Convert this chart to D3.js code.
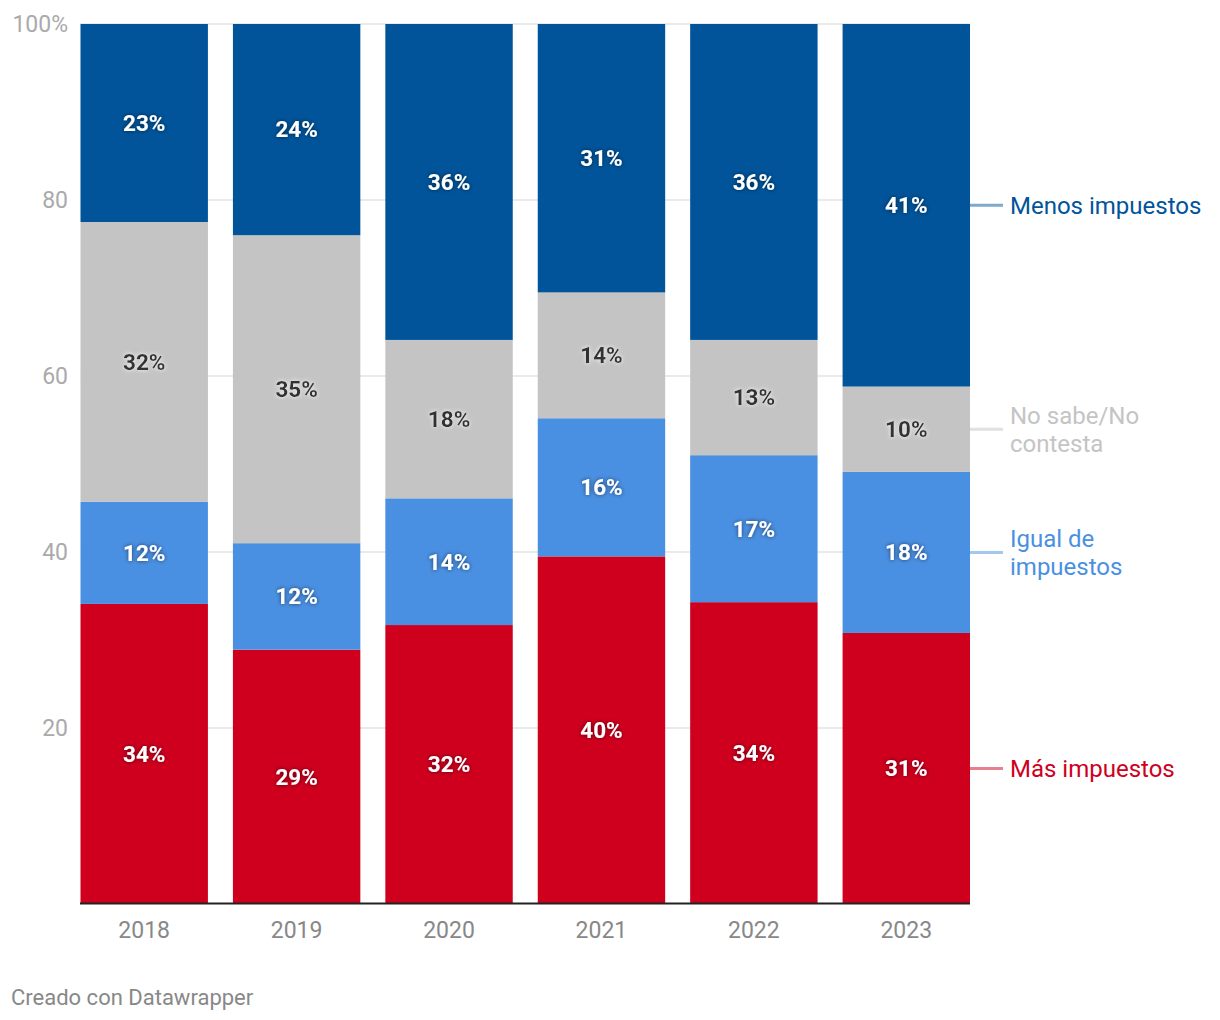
<!DOCTYPE html>
<html><head><meta charset="utf-8">
<script src="https://cdn.jsdelivr.net/npm/d3@7"></script>
<style>
body{margin:0;background:#fff;font-family:Roboto,"Noto Sans",sans-serif;}
</style></head><body>
<svg id="c" width="1220" height="1020"></svg>
<script>
const years = ["2018","2019","2020","2021","2022","2023"];
const seriesNames = ["Más impuestos","Igual de impuestos","No sabe/No contesta","Menos impuestos"];
const mas   = [34.1, 28.9, 31.7, 39.5, 34.3, 30.8];
const igual = [11.6, 12.1, 14.4, 15.7, 16.7, 18.3];
const nsnc  = [31.8, 35.0, 18.0, 14.3, 13.1, 9.7];
const menos = [22.5, 24.0, 35.9, 30.5, 35.9, 41.2];
const yTicks = [20, 40, 60, 80, 100];

const colors = ["#cf001e","#4a90e2","#c4c4c4","#01549a"];
const labelColors = ["#fff","#fff","#333","#fff"];
const legendLines = [["Más impuestos"],["Igual de","impuestos"],["No sabe/No","contesta"],["Menos impuestos"]];

const svg = d3.select("#c");
const mLeft = 80, mRight = 970, mTop = 24, mBottom = 904;
const x = d3.scaleBand().domain(years).range([mLeft+0.5, mRight]).paddingInner(0.164).paddingOuter(0);
const y = d3.scaleLinear().domain([0,100]).range([mBottom, mTop]);

// grid
svg.append("g").selectAll("line").data(yTicks).join("line")
  .attr("x1", mLeft).attr("x2", mRight).attr("y1", d=>y(d)).attr("y2", d=>y(d))
  .attr("stroke","#e3e3e3").attr("stroke-width",1.5);
svg.append("g").selectAll("text").data(yTicks).join("text")
  .attr("x", 68).attr("y", d=>y(d)).attr("dy","0.35em").attr("text-anchor","end")
  .attr("fill","#aaa").attr("font-size",23)
  .text(d=> d===100 ? "100%" : d);

const data = years.map((yr,i)=>({year:yr, "Más impuestos":mas[i], "Igual de impuestos":igual[i], "No sabe/No contesta":nsnc[i], "Menos impuestos":menos[i]}));
const stacked = d3.stack().keys(seriesNames)(data);

const defs = svg.append("defs");
const f1 = defs.append("filter").attr("id","halo-dark").attr("x","-20%").attr("y","-40%").attr("width","140%").attr("height","180%");
f1.append("feDropShadow").attr("dx",0).attr("dy",0).attr("stdDeviation",2).attr("flood-color","#000").attr("flood-opacity",0.6);
const f2 = defs.append("filter").attr("id","halo-light").attr("x","-20%").attr("y","-40%").attr("width","140%").attr("height","180%");
f2.append("feDropShadow").attr("dx",0).attr("dy",0).attr("stdDeviation",2).attr("flood-color","#fff").attr("flood-opacity",0.9);

stacked.forEach((s,si)=>{
  const g = svg.append("g");
  g.selectAll("rect").data(s).join("rect")
    .attr("x", d=>x(d.data.year)).attr("width", x.bandwidth())
    .attr("y", d=>y(d[1])).attr("height", d=>y(d[0])-y(d[1]))
    .attr("fill", colors[si]);
  g.selectAll("text").data(s).join("text")
    .attr("x", d=>x(d.data.year)+x.bandwidth()/2)
    .attr("y", d=>y((d[0]+d[1])/2)).attr("dy","0.35em")
    .attr("text-anchor","middle").attr("font-weight","bold").attr("font-size",22.5)
    .attr("fill", labelColors[si])
    .attr("filter", si===2 ? "url(#halo-light)" : "url(#halo-dark)")
    .text(d=>Math.round(d[1]-d[0])+"%");
  // legend
  const last = s[s.length-1];
  const ly = y((last[0]+last[1])/2);
  svg.append("line").attr("x1", mRight).attr("x2", 1003).attr("y1", ly).attr("y2", ly)
    .attr("stroke", colors[si]).attr("stroke-opacity",0.5).attr("stroke-width",3);
  const lines = legendLines[si];
  const t = svg.append("text").attr("x",1010).attr("font-size",24).attr("fill", colors[si]);
  lines.forEach((ln,li)=>{
    t.append("tspan").attr("x",1010).attr("y", ly + (li - (lines.length-1)/2)*28).attr("dy","0.35em").text(ln);
  });
});

// baseline & x axis
svg.append("line").attr("x1", mLeft).attr("x2", mRight).attr("y1", mBottom-0.5).attr("y2", mBottom-0.5)
  .attr("stroke","#222").attr("stroke-width",2);
svg.append("g").selectAll("text").data(years).join("text")
  .attr("x", d=>x(d)+x.bandwidth()/2).attr("y", 930).attr("dy","0.35em")
  .attr("text-anchor","middle").attr("fill","#888").attr("font-size",23).text(d=>d);

svg.append("text").attr("x",11).attr("y",997).attr("dy","0.35em").attr("fill","#888").attr("font-size",22)
  .text("Creado con Datawrapper");
</script>
</body></html>
